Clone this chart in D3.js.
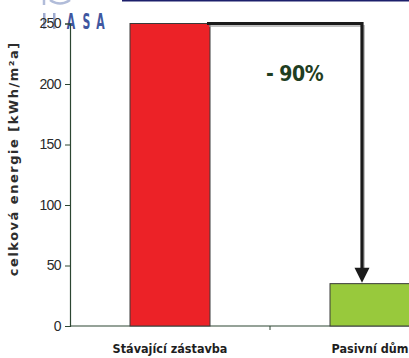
<!DOCTYPE html>
<html>
<head>
<meta charset="utf-8">
<script src="https://cdn.jsdelivr.net/npm/d3@7/dist/d3.min.js"></script>
<style>
  html, body { margin: 0; padding: 0; background: #fff; }
  svg { display: block; }
</style>
</head>
<body>
<script>
// Energy demand: existing building stock vs. passive house
const categories = ["Stávající zástavba", "Pasivní dům"];
const values = [250, 35];
const barColors = ["#ec2227", "#98c93c"];
const yTicks = [0, 50, 100, 150, 200, 250];
const yTitle = "celková energie [kWh/m²a]";
const reductionLabel = "- 90%";
const logoLetters = ["A", "S", "A"];

const W = 409, H = 358;
const svg = d3.select("body").append("svg").attr("width", W).attr("height", H);

// header: logo and rule line
svg.append("line")
  .attr("x1", 122).attr("x2", W).attr("y1", 0.8).attr("y2", 0.8)
  .attr("stroke", "#1c1f6b").attr("stroke-width", 1.6);
const logoX = [71, 86.5, 100.5];
const logo = svg.append("g").attr("fill", "#3f57a0");
logo.selectAll("text").data(logoLetters).join("text")
  .attr("x", (d, i) => logoX[i]).attr("y", 29)
  .attr("text-anchor", "middle")
  .attr("font-family", "DejaVu Sans Condensed, DejaVu Sans")
  .attr("font-weight", "bold")
  .attr("font-size", 22)
  .attr("transform", (d, i) => `translate(${logoX[i]},0) scale(0.55,1) translate(${-logoX[i]},0)`)
  .text(d => d);
logo.append("rect").attr("x", 43).attr("y", 13).attr("width", 2.5).attr("height", 16).attr("opacity", 0.5);
logo.append("rect").attr("x", 53).attr("y", 13).attr("width", 2.5).attr("height", 16).attr("opacity", 0.5);
svg.append("path")
  .attr("d", "M50,0 Q60,7 70,0 M44,0 L44,5")
  .attr("fill", "none").attr("stroke", "#7d8fc0").attr("stroke-width", 2.5).attr("opacity", 0.6);

const x = d3.scaleBand().domain(categories).range([70, 470])
  .paddingInner(0.6).paddingOuter(0.3);
const y = d3.scaleLinear().domain([0, 250]).range([326, 23.5]);

const axisColor = "#2c4632";

// y axis
const yAxis = svg.append("g").attr("transform", "translate(70,0)")
  .call(d3.axisLeft(y).tickValues(yTicks).tickSize(5).tickPadding(4));
yAxis.select(".domain").attr("stroke", axisColor).attr("stroke-width", 1.2);
yAxis.selectAll(".tick line").attr("stroke", axisColor).attr("stroke-width", 1);
yAxis.selectAll(".tick text")
  .attr("font-family", "Liberation Sans, Arial, sans-serif")
  .attr("font-size", 14).attr("letter-spacing", -0.6).attr("fill", "#2a2a2a");

// x axis baseline with a separator tick between categories
svg.append("line")
  .attr("x1", 70).attr("x2", 470).attr("y1", y(0)).attr("y2", y(0))
  .attr("stroke", axisColor).attr("stroke-width", 1.2);
const sep = (x(categories[0]) + x.bandwidth() + x(categories[1])) / 2;
svg.append("line")
  .attr("x1", sep).attr("x2", sep).attr("y1", y(0)).attr("y2", y(0) + 4)
  .attr("stroke", axisColor).attr("stroke-width", 1);

// bars
svg.append("g").selectAll("rect").data(values).join("rect")
  .attr("x", (d, i) => x(categories[i]))
  .attr("y", d => y(d))
  .attr("width", x.bandwidth())
  .attr("height", d => y(0) - y(d))
  .attr("fill", (d, i) => barColors[i])
  .attr("stroke", "#3a3a3a").attr("stroke-width", 1);

// category labels
svg.append("g").selectAll("text").data(categories).join("text")
  .attr("x", d => x(d) + x.bandwidth() / 2)
  .attr("y", 353)
  .attr("text-anchor", "middle")
  .attr("font-family", "DejaVu Sans Condensed, DejaVu Sans")
  .attr("font-weight", "bold").attr("font-size", 12.5)
  .attr("fill", "#1e1e1e")
  .text(d => d);

// y axis title
svg.append("text")
  .attr("transform", `translate(18,${(y(0) + y(250)) / 2 - 16}) rotate(-90)`)
  .attr("text-anchor", "middle")
  .attr("font-family", "DejaVu Sans")
  .attr("font-weight", "bold").attr("font-size", 13)
  .attr("letter-spacing", 1.5)
  .attr("fill", "#2d2d2d")
  .text(yTitle);

// reduction arrow from the first bar down to the second
const ax0 = x(categories[0]) + x.bandwidth() - 3;
const ay0 = y(values[0]);
const ax1 = x(categories[1]) + x.bandwidth() * 0.4;
const tipY = y(values[1]) - 1;
const headH = 15, headW = 7.5;
svg.append("path")
  .attr("d", `M${ax0 + 2},${ay0 + 2.5} H${ax1 + 2} V${tipY - headH + 2}`)
  .attr("fill", "none").attr("stroke", "#9a9a9a").attr("stroke-width", 2).attr("opacity", 0.6);
svg.append("path")
  .attr("d", `M${ax0},${ay0} H${ax1} V${tipY - headH + 1}`)
  .attr("fill", "none").attr("stroke", "#1b1b1b").attr("stroke-width", 3.2);
svg.append("path")
  .attr("d", `M${ax1 - headW},${tipY - headH} L${ax1 + headW},${tipY - headH} L${ax1},${tipY} Z`)
  .attr("fill", "#1b1b1b");

// reduction label
svg.append("text")
  .attr("x", (ax0 + ax1) / 2 + 10).attr("y", 81)
  .attr("text-anchor", "middle")
  .attr("font-family", "DejaVu Sans Condensed, DejaVu Sans")
  .attr("font-weight", "bold").attr("font-size", 21)
  .attr("letter-spacing", -0.5)
  .attr("fill", "#1f3e22")
  .text(reductionLabel);
</script>
</body>
</html>
